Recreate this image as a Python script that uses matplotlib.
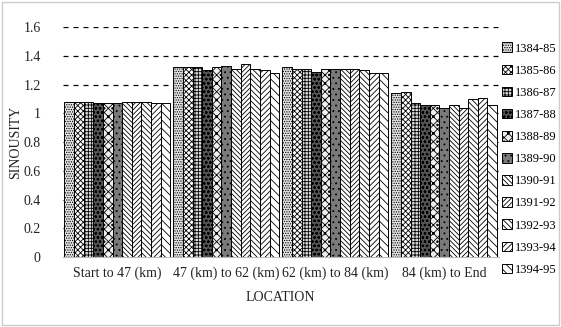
import matplotlib.pyplot as plt
import matplotlib.patches as mpatches
import numpy as np

plt.rcParams['font.family'] = ['Liberation Serif', 'DejaVu Serif']
plt.rcParams['hatch.linewidth'] = 0.6

locations = ['Start to 47 (km)', '47 (km) to 62 (km)', '62 (km) to 84 (km)', '84 (km) to End']
years = ['1384-85', '1385-86', '1386-87', '1387-88', '1388-89', '1389-90',
         '1390-91', '1391-92', '1392-93', '1393-94', '1394-95']

# sinuosity per year, one list per location
start_47 = [1.08, 1.08, 1.08, 1.07, 1.07, 1.07, 1.08, 1.08, 1.08, 1.07, 1.07]
km47_62 = [1.32, 1.32, 1.32, 1.30, 1.32, 1.33, 1.31, 1.34, 1.31, 1.30, 1.28]
km62_84 = [1.32, 1.31, 1.31, 1.29, 1.31, 1.31, 1.31, 1.31, 1.30, 1.28, 1.28]
km84_end = [1.14, 1.15, 1.07, 1.06, 1.06, 1.04, 1.06, 1.04, 1.10, 1.11, 1.06]

values = np.array([start_47, km47_62, km62_84, km84_end])

# black-and-white fill styles, one per year
styles = [
    ('#e4e4e4', '.' * 7),
    ('white', 'x' * 6),
    ('#dcdcdc', '+' * 5),
    ('#555555', 'o' * 4),
    ('#efefef', 'x' * 4 + '.' * 2),
    ('#7a7a7a', '.' * 3),
    ('white', '\\' * 7),
    ('white', '/' * 7),
    ('white', '\\' * 6),
    ('white', '/' * 6),
    ('white', '\\' * 4),
]

fig = plt.figure(figsize=(5.61, 3.27), dpi=100)
ax = fig.add_axes([0.112, 0.214, 0.777, 0.703])

n = len(years)
group_w = 0.97
bar_w = group_w / n
x = np.arange(len(locations))

for i, year in enumerate(years):
    fc, hatch = styles[i]
    ax.bar(x - group_w / 2 + bar_w * (i + 0.5), values[:, i], width=bar_w,
           color=fc, edgecolor='black', hatch=hatch, linewidth=0.7,
           label=year, zorder=3)

ax.set_ylim(0, 1.6)
ax.set_xlim(-0.5, len(locations) - 0.5)
ax.set_yticks(np.arange(0, 1.61, 0.2))
ax.set_yticklabels(['0', '0.2', '0.4', '0.6', '0.8', '1', '1.2', '1.4', '1.6'])
ax.set_xticks(x)
ax.set_xticklabels(locations, fontsize=10, color='#222222')
ax.tick_params(axis='y', length=0, labelsize=10, pad=16, colors='#222222')
ax.tick_params(axis='x', length=0, pad=7)
ax.yaxis.grid(True, linestyle=(0, (4, 4)), color='black', linewidth=0.9, zorder=0)
ax.set_axisbelow(True)
for s in ['top', 'right', 'left']:
    ax.spines[s].set_visible(False)
ax.spines['bottom'].set_color('#bbbbbb')

ax.set_xlabel('LOCATION', fontsize=10, color='#222222', labelpad=8)
ax.set_ylabel('SINOUSITY', fontsize=10, color='#222222')
ax.yaxis.set_label_coords(-0.094, 0.5)

leg = ax.legend(loc='upper left', bbox_to_anchor=(0.995, 0.955), frameon=False,
                fontsize=9, handlelength=0.8, handleheight=0.8,
                handletextpad=0.3, labelspacing=0.8, borderaxespad=0)

# thin border round the whole figure
fig.patches.append(mpatches.Rectangle((0.004, 0.006), 0.992, 0.988, transform=fig.transFigure,
                                      fill=False, edgecolor='#cccccc', linewidth=1))

fig.savefig('out.png', dpi=100)
